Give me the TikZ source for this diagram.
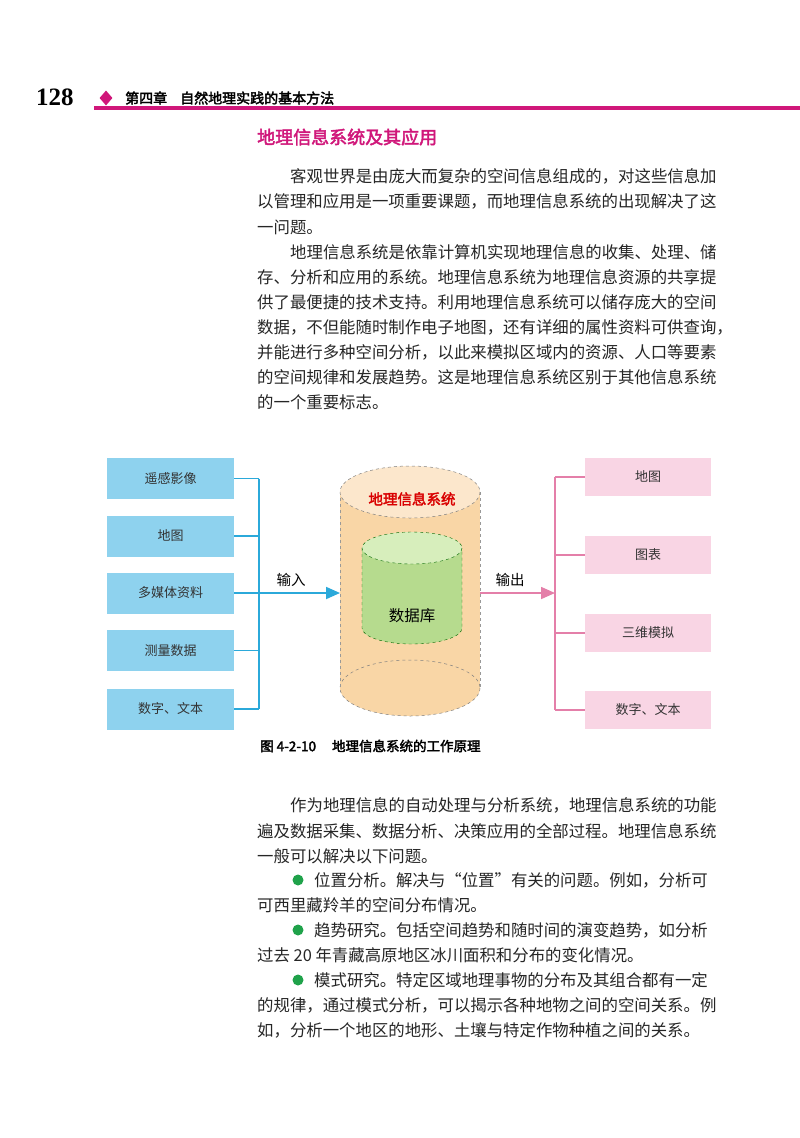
\documentclass[tikz,border=0pt]{standalone}
\usepackage{fontspec}
\newfontfamily\cjk[AutoFakeBold=2.5]{Noto Sans CJK SC}
\setmainfont{Liberation Serif}
\usetikzlibrary{arrows.meta,shapes.geometric}
\definecolor{bbox}{HTML}{8ED2EE}
\definecolor{bline}{HTML}{2BA9DA}
\definecolor{pbox}{HTML}{F9D5E4}
\definecolor{pline}{HTML}{E47FA9}
\definecolor{mag}{HTML}{D0177A}
\definecolor{cyl}{HTML}{F9D6A6}
\definecolor{cyltop}{HTML}{FCE7CC}
\definecolor{grn}{HTML}{B6DB8E}
\definecolor{grntop}{HTML}{D7EEBC}
\definecolor{dot}{HTML}{1FA24A}
\tikzset{
 body/.style={anchor=west,inner sep=0pt,font=\cjk\fontsize{16.4}{16.4}\selectfont,text=black!85},
 lbox/.style={fill=bbox,minimum width=127pt,minimum height=41pt,inner sep=0pt,font=\cjk\fontsize{13}{13}\selectfont,text=black!80},
 rbox/.style={fill=pbox,minimum width=126pt,minimum height=38pt,inner sep=0pt,font=\cjk\fontsize{13}{13}\selectfont,text=black!80},
 bl/.style={draw=bline,line width=1.8pt},
 pl/.style={draw=pline,line width=1.6pt},
 bul/.style={circle,fill=dot,minimum size=11pt,inner sep=0pt}
}
\begin{document}
\begin{tikzpicture}[x=1pt,y=-1pt]
\useasboundingbox (0,0) rectangle (800,1138);
\fill[white] (0,0) rectangle (800,1138);
% header
\node[anchor=west,inner sep=0pt,font=\fontsize{25}{25}\selectfont\bfseries] (pg) at (36,97) {128};
\node[diamond,fill=mag,minimum width=13pt,minimum height=15pt,inner sep=0pt] (dia) at (106,98) {};
\node[anchor=west,inner sep=0pt,font=\cjk\bfseries\fontsize{14}{14}\selectfont] (chap) at (125,98) {第四章\hspace{13pt}自然地理实践的基本方法};
\fill[mag] (94,106) rectangle (800,110);
\node[anchor=west,inner sep=0pt,font=\cjk\bfseries\fontsize{18}{18}\selectfont,text=mag] (title) at (257,137) {地理信息系统及其应用};
% paragraph 1-2
\node[body] (p1) at (290,176) {客观世界是由庞大而复杂的空间信息组成的，对这些信息加};
\node[body] (p2) at (257,201) {以管理和应用是一项重要课题，而地理信息系统的出现解决了这};
\node[body] (p3) at (257,227) {一问题。};
\node[body] (p4) at (290,252) {地理信息系统是依靠计算机实现地理信息的收集、处理、储};
\node[body] (p5) at (257,277) {存、分析和应用的系统。地理信息系统为地理信息资源的共享提};
\node[body] (p6) at (257,302) {供了最便捷的技术支持。利用地理信息系统可以储存庞大的空间};
\node[body] (p7) at (257,327) {数据，不但能随时制作电子地图，还有详细的属性资料可供查询，};
\node[body] (p8) at (257,352) {并能进行多种空间分析，以此来模拟区域内的资源、人口等要素};
\node[body] (p9) at (257,377) {的空间规律和发展趋势。这是地理信息系统区别于其他信息系统};
\node[body] (p10) at (257,402) {的一个重要标志。};
% left boxes
\node[lbox] (l1) at (170.5,478.5) {遥感影像};
\node[lbox] (l2) at (170.5,536) {地图};
\node[lbox] (l3) at (170.5,593) {多媒体资料};
\node[lbox] (l4) at (170.5,650.5) {测量数据};
\node[lbox] (l5) at (170.5,709) {数字、文本};
\coordinate (b1) at (259,478.5);
\coordinate (b2) at (259,536);
\coordinate (b3) at (259,593);
\coordinate (b4) at (259,650.5);
\coordinate (b5) at (259,709);
\foreach \i in {1,...,5} {\draw[bl] (l\i.east) -- (b\i);}
\draw[bl] (b1) -- (b5);
% cylinder
\coordinate (cylL) at (340,593);
\coordinate (cylR) at (480,593);
\fill[cyl] (410,688) ellipse[x radius=70,y radius=28];
\fill[cyl] (340,492) rectangle (480,688);
\draw[gray,dashed,line width=0.5pt] (410,688) ellipse[x radius=70,y radius=28];
\draw[gray!80,dashed,line width=0.5pt] (340,492) -- (340,688) (480,492) -- (480,688);
\fill[cyltop] (410,492) ellipse[x radius=70,y radius=26];
\draw[gray,dashed,line width=0.5pt] (410,492) ellipse[x radius=70,y radius=26];
\node[font=\cjk\bfseries\fontsize{14.5}{14.5}\selectfont,text=red!85!black] (gis) at (412,499) {地理信息系统};
% inner cylinder
\fill[grn] (412,628) ellipse[x radius=50,y radius=16];
\fill[grn] (362,548) rectangle (462,628);
\draw[green!40!black,dashed,line width=0.4pt] (362,548) -- (362,628) arc[start angle=180,end angle=360,x radius=50,y radius=-16] -- (462,548);
\fill[grntop] (412,548) ellipse[x radius=50,y radius=16];
\draw[green!40!black,dashed,line width=0.4pt] (412,548) ellipse[x radius=50,y radius=16];
\node[font=\cjk\fontsize{15.5}{15.5}\selectfont] (db) at (412,616) {数据库};
% input arrow
\draw[bl,-{Triangle[length=14pt,width=12pt]}] (b3) -- (cylL);
\node[font=\cjk\fontsize{14.5}{14.5}\selectfont] (in) at (291,580) {输入};
% right boxes
\node[rbox] (r1) at (648,477) {地图};
\node[rbox] (r2) at (648,555) {图表};
\node[rbox] (r3) at (648,633) {三维模拟};
\node[rbox] (r4) at (648,710) {数字、文本};
\coordinate (c1) at (555,477);
\coordinate (c2) at (555,555);
\coordinate (c3) at (555,633);
\coordinate (c4) at (555,710);
\coordinate (cm) at (555,593);
\foreach \i in {1,...,4} {\draw[pl] (c\i) -- (r\i.west);}
\draw[pl] (c1) -- (c4);
\draw[pl,-{Triangle[length=14pt,width=12pt]}] (cylR) -- (cm);
\node[font=\cjk\fontsize{14.5}{14.5}\selectfont] (out) at (510,580) {输出};
% caption
\node[anchor=west,inner sep=0pt,font=\cjk\bfseries\fontsize{13.5}{13.5}\selectfont] (cap) at (260,746) {图 4{-}2{-}10\hspace{16pt}地理信息系统的工作原理};
% paragraph 3
\node[body] (q1) at (290,805) {作为地理信息的自动处理与分析系统，地理信息系统的功能};
\node[body] (q2) at (257,831) {遍及数据采集、数据分析、决策应用的全部过程。地理信息系统};
\node[body] (q3) at (257,856) {一般可以解决以下问题。};
\node[bul] (d1) at (298,880) {};
\node[body] (q4) at (314,880) {位置分析。解决与“位置”有关的问题。例如，分析可};
\node[body] (q5) at (257,905) {可西里藏羚羊的空间分布情况。};
\node[bul] (d2) at (298,930) {};
\node[body] (q6) at (314,930) {趋势研究。包括空间趋势和随时间的演变趋势，如分析};
\node[body] (q7) at (257,955) {过去 20 年青藏高原地区冰川面积和分布的变化情况。};
\node[bul] (d3) at (298,980) {};
\node[body] (q8) at (314,980) {模式研究。特定区域地理事物的分布及其组合都有一定};
\node[body] (q9) at (257,1005) {的规律，通过模式分析，可以揭示各种地物之间的空间关系。例};
\node[body] (q10) at (257,1030) {如，分析一个地区的地形、土壤与特定作物种植之间的关系。};
\end{tikzpicture}
\end{document}
